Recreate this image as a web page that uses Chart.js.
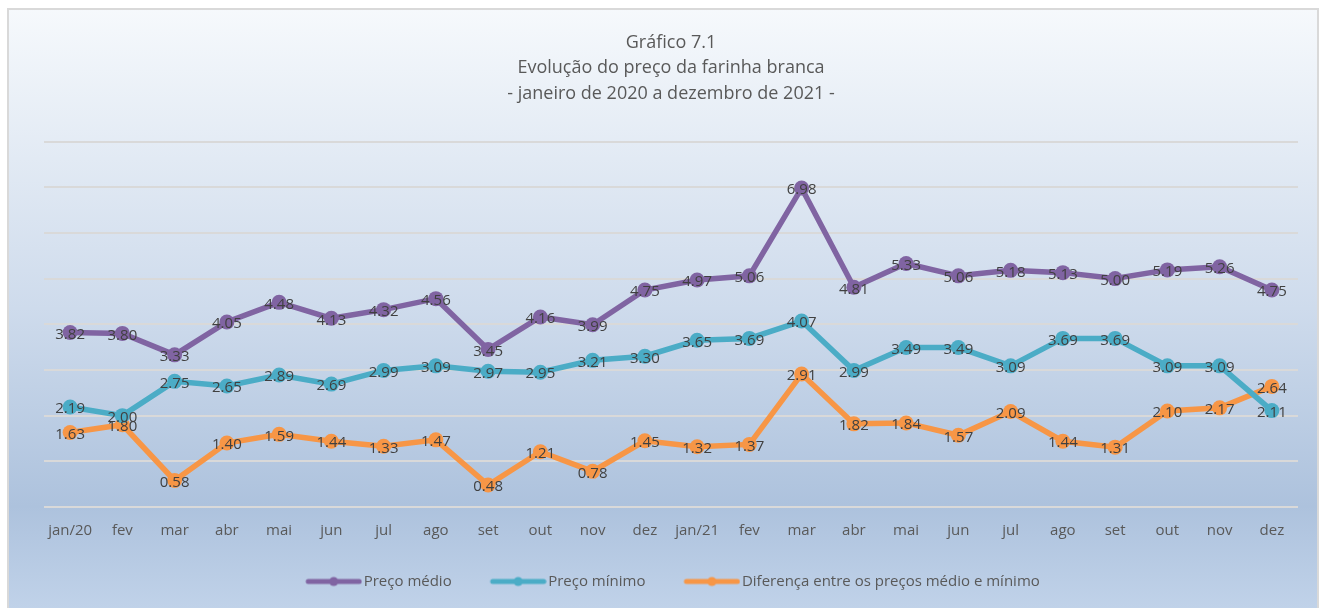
<!DOCTYPE html>
<html>
<head>
<meta charset="utf-8">
<script src="https://cdn.jsdelivr.net/npm/chart.js@4"></script>
<style>
    body { margin: 0; background: #ffffff; }
    #wrap { position: relative; width: 1320px; height: 608px; }
</style>
</head>
<body>
<div id="wrap"><canvas id="lineChart" width="1320" height="608"></canvas></div>
<script>
const months = ["jan/20", "fev", "mar", "abr", "mai", "jun", "jul", "ago", "set", "out", "nov", "dez",
    "jan/21", "fev", "mar", "abr", "mai", "jun", "jul", "ago", "set", "out", "nov", "dez"];
const precoMedio = [3.82, 3.80, 3.33, 4.05, 4.48, 4.13, 4.32, 4.56, 3.45, 4.16, 3.99, 4.75,
    4.97, 5.06, 6.98, 4.81, 5.33, 5.06, 5.18, 5.13, 5.00, 5.19, 5.26, 4.75];
const precoMinimo = [2.19, 2.00, 2.75, 2.65, 2.89, 2.69, 2.99, 3.09, 2.97, 2.95, 3.21, 3.30,
    3.65, 3.69, 4.07, 2.99, 3.49, 3.49, 3.09, 3.69, 3.69, 3.09, 3.09, 2.11];
const diferenca = [1.63, 1.80, 0.58, 1.40, 1.59, 1.44, 1.33, 1.47, 0.48, 1.21, 0.78, 1.45,
    1.32, 1.37, 2.91, 1.82, 1.84, 1.57, 2.09, 1.44, 1.31, 2.10, 2.17, 2.64];
const seriesNames = ["Preço médio", "Preço mínimo", "Diferença entre os preços médio e mínimo"];
const seriesColors = ["#8064a2", "#4bacc6", "#f79646"];
const titleLines = ["Gráfico 7.1", "Evolução do preço da farinha branca", "- janeiro de 2020 a dezembro de 2021 -"];

const FONT = "'Open Sans', 'Noto Sans', sans-serif";

// line + dot marker for the legend (drawn on the right side of the canvas so it sits next to the text)
function legendMarker(color) {
    const c = document.createElement("canvas");
    c.width = 82; c.height = 12;
    const g = c.getContext("2d");
    g.strokeStyle = color;
    g.lineWidth = 5;
    g.lineCap = "round";
    g.beginPath(); g.moveTo(28, 6); g.lineTo(79, 6); g.stroke();
    g.fillStyle = color;
    g.beginPath(); g.arc(53.5, 6, 4.5, 0, Math.PI * 2); g.fill();
    return c;
}

// background box with the blue gradient
const backgroundBox = {
    id: "backgroundBox",
    beforeDraw(chart) {
        const ctx = chart.ctx;
        const grad = ctx.createLinearGradient(0, 9, 0, 608);
        grad.addColorStop(0, "#f6f9fc");
        grad.addColorStop(0.5, "#cedbec");
        grad.addColorStop(0.83, "#adc2dd");
        grad.addColorStop(1, "#c0d2e9");
        ctx.save();
        ctx.fillStyle = grad;
        ctx.fillRect(8, 9, 1310, 600);
        ctx.strokeStyle = "#d9d9d9";
        ctx.lineWidth = 2;
        ctx.strokeRect(8, 9, 1310, 602);
        ctx.restore();
    }
};

// nudge the legend a bit to the left
const legendShift = {
    id: "legendShift",
    afterLayout(chart) {
        if (chart.legend) {
            chart.legend.left -= 8;
            chart.legend.right -= 8;
        }
    }
};

// value labels centred on each point
const pointLabels = {
    id: "pointLabels",
    afterDatasetsDraw(chart) {
        const ctx = chart.ctx;
        ctx.save();
        ctx.font = "15px " + FONT;
        ctx.fillStyle = "#404040";
        ctx.textAlign = "center";
        ctx.textBaseline = "middle";
        chart.data.datasets.forEach((ds, i) => {
            chart.getDatasetMeta(i).data.forEach((pt, j) => {
                ctx.fillText(ds.data[j].toFixed(2), pt.x, pt.y + 2);
            });
        });
        ctx.restore();
    }
};

const datasets = [precoMedio, precoMinimo, diferenca].map((vals, i) => ({
    label: seriesNames[i],
    data: vals,
    borderColor: seriesColors[i],
    backgroundColor: seriesColors[i],
    borderWidth: 5.5,
    pointRadius: 7.5,
    pointHoverRadius: 7.5,
    pointBorderWidth: 0,
    pointStyle: "circle",
    tension: 0
}));

const ctx = document.getElementById("lineChart").getContext("2d");
new Chart(ctx, {
    type: "line",
    data: { labels: months, datasets: datasets },
    plugins: [backgroundBox, legendShift, pointLabels],
    options: {
        responsive: false,
        animation: false,
        layout: { padding: { left: 44, right: 22, top: 0, bottom: 9 } },
        plugins: {
            tooltip: { enabled: false },
            title: {
                display: true,
                text: titleLines,
                color: "#595959",
                font: { family: FONT, size: 18, weight: "normal", lineHeight: 1.417 },
                padding: { top: 30, bottom: 35 }
            },
            legend: {
                position: "bottom",
                labels: {
                    color: "#595959",
                    font: { family: FONT, size: 15 },
                    usePointStyle: true,
                    pointStyleWidth: 70,
                    padding: 19,
                    generateLabels: (chart) => chart.data.datasets.map((ds, i) => ({
                        text: ds.label,
                        fillStyle: seriesColors[i],
                        strokeStyle: seriesColors[i],
                        lineWidth: 0,
                        pointStyle: legendMarker(seriesColors[i]),
                        datasetIndex: i,
                        fontColor: "#595959"
                    }))
                }
            }
        },
        scales: {
            x: {
                offset: true,
                grid: { display: false, drawTicks: false },
                border: { display: false },
                ticks: { color: "#595959", font: { family: FONT, size: 15 }, padding: 15, maxRotation: 0, autoSkip: false }
            },
            y: {
                display: true,
                min: 0,
                max: 8,
                ticks: { display: false, stepSize: 1 },
                border: { display: false },
                grid: { color: "#d9d9d9", lineWidth: 2, drawTicks: false }
            }
        }
    }
});
</script>
</body>
</html>
